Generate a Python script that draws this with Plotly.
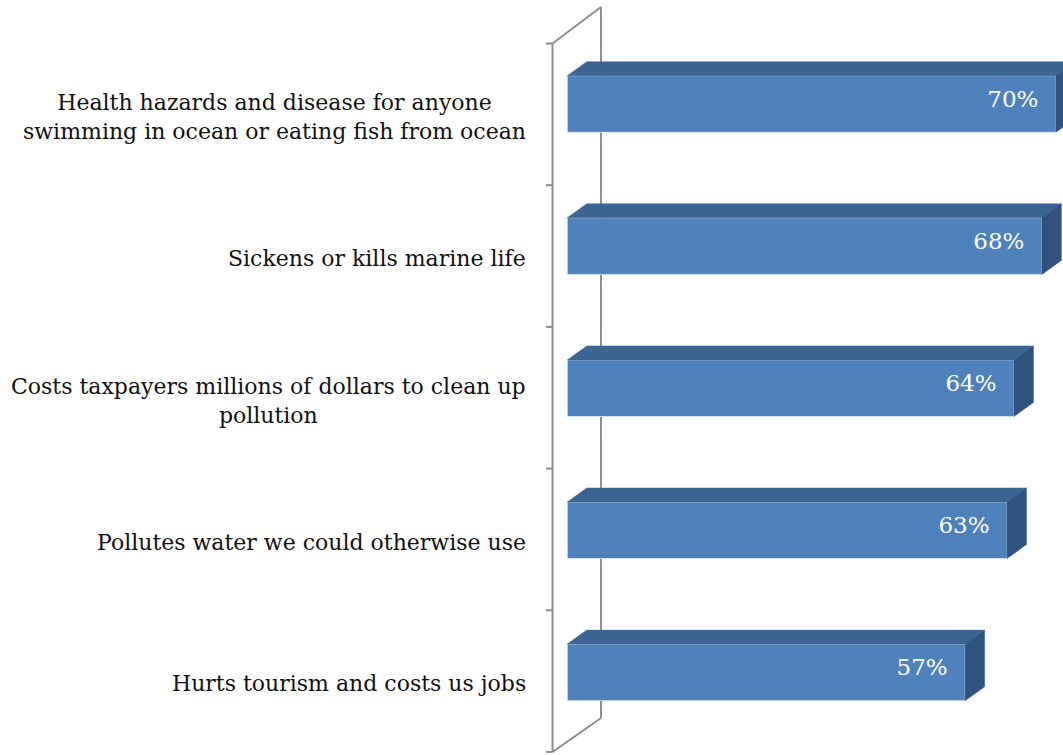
import plotly.graph_objects as go

# ---- data ----
categories = [
    "Health hazards and disease for anyone<br>swimming in ocean or eating fish from ocean",
    "Sickens or kills marine life",
    "Costs taxpayers millions of dollars to clean up<br>pollution",
    "Pollutes water we could otherwise use",
    "Hurts tourism and costs us jobs",
]
values = [70, 68, 64, 63, 57]
value_labels = ["70%", "68%", "64%", "63%", "57%"]

# ---- style / geometry (axis units) ----
FRONT = "#4F81BD"
TOP = "#3D6592"
SIDE = "#30527F"
WALL = "#8E8E8E"
FONT = "DejaVu Serif"

BAR_W = 0.398          # front face thickness (category units)
DX, DY = 2.78, 0.0985  # bar depth offset (x in %, y in category units, up = negative)
WALL_FX, WALL_BX = -2.12, 4.83        # wall front / back x
WALL_FY = (-0.4258, 4.560)            # front line y extent
WALL_BY = (-0.6826, 4.3209)           # back line y extent
TICK_LEN = 0.93
LABEL_PAD = 2.5        # gap between value label and bar end (%)

X_RANGE = [-81.28, 71.02]
Y_RANGE = [4.5813, -0.7319]

n = len(values)
ys = list(range(n))

fig = go.Figure()

# front faces
fig.add_trace(go.Bar(
    y=ys, x=values, orientation="h", width=BAR_W,
    marker=dict(color=FRONT, line=dict(color="rgba(220,232,245,0.8)", width=1)),
    hoverinfo="skip",
))

# top faces
tx, ty = [], []
for y, v in zip(ys, values):
    top = y - BAR_W / 2
    tx += [0, DX, v + DX, v, 0, None]
    ty += [top, top - DY, top - DY, top, top, None]
fig.add_trace(go.Scatter(x=tx, y=ty, mode="lines", fill="toself", fillcolor=TOP,
                         line=dict(color=TOP, width=0.5), hoverinfo="skip"))

# right faces
sx, sy = [], []
for y, v in zip(ys, values):
    top = y - BAR_W / 2
    bot = y + BAR_W / 2
    sx += [v, v + DX, v + DX, v, v, None]
    sy += [top, top - DY, bot - DY, bot, top, None]
fig.add_trace(go.Scatter(x=sx, y=sy, mode="lines", fill="toself", fillcolor=SIDE,
                         line=dict(color=SIDE, width=0.5), hoverinfo="skip"))

# value labels inside bar ends
fig.add_trace(go.Scatter(
    x=[v - LABEL_PAD for v in values], y=[y - 0.02 for y in ys], mode="text",
    text=value_labels, textposition="middle left",
    textfont=dict(family=FONT, size=23, color="white"), hoverinfo="skip",
))

# walls (drawn below the bars)
shapes = []
line = dict(color=WALL, width=2)
shapes.append(dict(type="line", x0=WALL_FX, x1=WALL_FX, y0=WALL_FY[0], y1=WALL_FY[1], line=line, layer="below"))
shapes.append(dict(type="line", x0=WALL_BX, x1=WALL_BX, y0=WALL_BY[0], y1=WALL_BY[1], line=line, layer="below"))
shapes.append(dict(type="line", x0=WALL_FX, x1=WALL_BX, y0=WALL_FY[0], y1=WALL_BY[0], line=line, layer="below"))
shapes.append(dict(type="line", x0=WALL_FX, x1=WALL_BX, y0=WALL_FY[1], y1=WALL_BY[1], line=line, layer="below"))
step = (WALL_FY[1] - WALL_FY[0]) / n
for k in range(n + 1):
    yk = WALL_FY[0] + k * step
    shapes.append(dict(type="line", x0=WALL_FX - TICK_LEN, x1=WALL_FX, y0=yk, y1=yk, line=line, layer="below"))

# category labels
annotations = []
for k, cat in enumerate(categories):
    yc = WALL_FY[0] + (k + 0.5) * step + 0.02
    annotations.append(dict(x=-5.63, y=yc, xref="x", yref="y", text=cat, showarrow=False,
                            xanchor="right", yanchor="middle", align="center",
                            font=dict(family=FONT, size=22, color="#111111")))

fig.update_layout(
    width=1063, height=755,
    margin=dict(l=0, r=0, t=0, b=0),
    paper_bgcolor="white", plot_bgcolor="white",
    showlegend=False,
    xaxis=dict(range=X_RANGE, visible=False, fixedrange=True),
    yaxis=dict(range=Y_RANGE, visible=False, fixedrange=True),
    shapes=shapes, annotations=annotations,
)

fig.write_html("out.html", config={"displayModeBar": False},
               post_script="document.body.style.margin='0';document.body.style.overflow='hidden';")
